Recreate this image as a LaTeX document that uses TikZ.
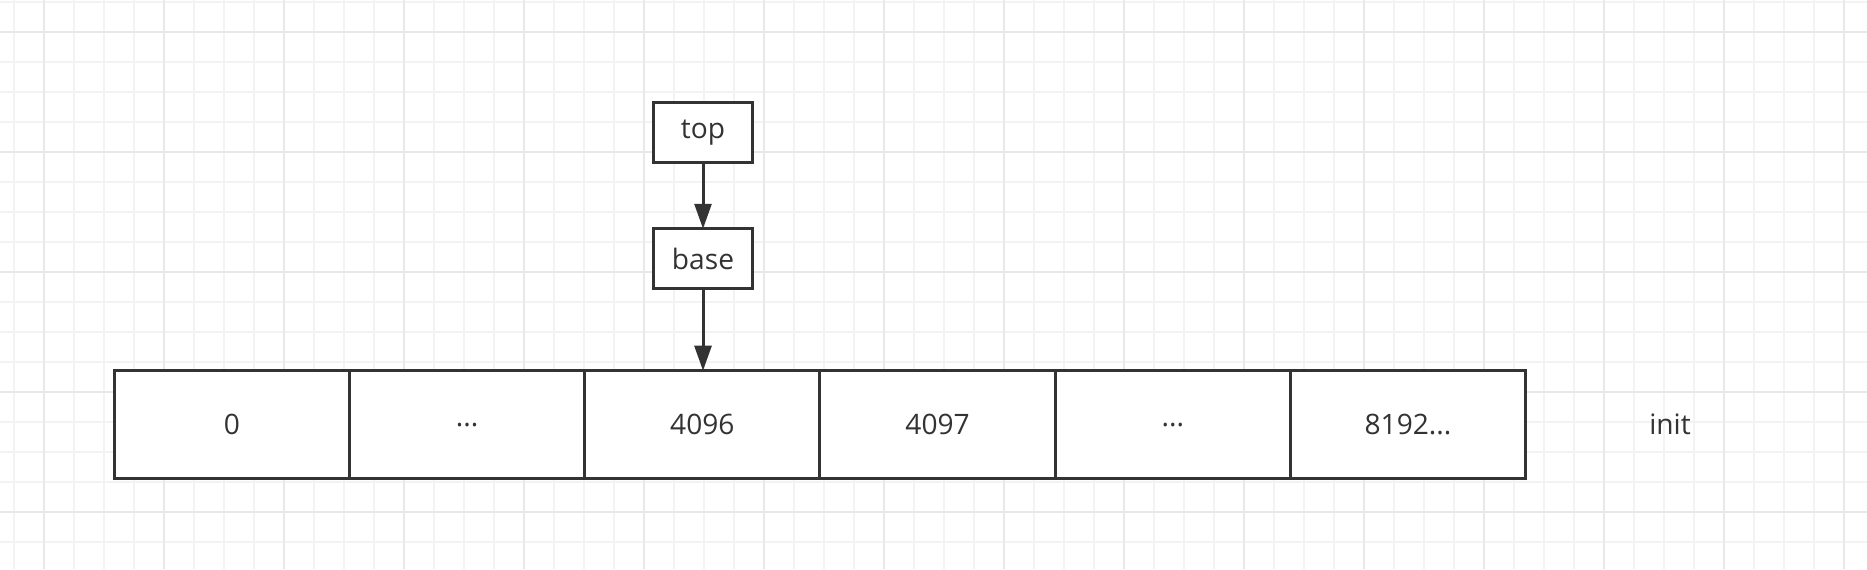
\documentclass[tikz,border=0pt]{standalone}
\usepackage{fontspec}
\setmainfont{Open Sans}
\usetikzlibrary{positioning,arrows.meta}
\definecolor{ink}{HTML}{333333}
\definecolor{gridminor}{HTML}{F3F3F3}
\definecolor{gridmajor}{HTML}{E8E8E8}

\begin{document}
\begin{tikzpicture}[x=0.01cm,y=-0.01cm,outer sep=0pt,inner sep=0pt,
    font=\fontsize{8}{9.6}\selectfont,text=ink,
    cell/.style={draw=ink,fill=white,line width=0.85pt,minimum height=1.076cm,minimum width=2.352cm,anchor=north west},
    ptr/.style={draw=ink,fill=white,line width=0.85pt,minimum height=0.6cm,minimum width=0.994cm},
    >={Triangle[length=7.1pt,width=4.8pt]}]
            \useasboundingbox (0,0) rectangle (1867,569);
            % background grid
            \foreach \x in {14,44,...,1867} \draw[gridminor,line width=0.5pt] (\x,0) -- (\x,569);
            \foreach \y in {1.7,31.7,...,569} \draw[gridminor,line width=0.5pt] (0,\y) -- (1867,\y);
            \foreach \x in {44,164,...,1867} \draw[gridmajor,line width=0.6pt] (\x,0) -- (\x,569);
            \foreach \y in {31.7,151.7,...,569} \draw[gridmajor,line width=0.6pt] (0,\y) -- (1867,\y);
            \draw
            (114.3,370.7) node[cell] (c0) {0}
            (349.5,370.7) node[cell] (c1) {...}
            (584.7,370.7) node[cell] (c2) {4096}
            (819.9,370.7) node[cell] (c3) {4097}
            (1055.1,370.7) node[cell] (c4) {...}
            (1290.3,370.7) node[cell] (c5) {8192...}
            (1670,424.5) node (init) {init}
            (703,132.7) node[ptr] (top) {top}
            (703,258.8) node[ptr] (base) {base}
            ;
            \draw[ink,line width=0.85pt,->] (top) -- (base);
            \draw[ink,line width=0.85pt,->] (base) -- (base |- c2.north);
        \end{tikzpicture}
\end{document}
